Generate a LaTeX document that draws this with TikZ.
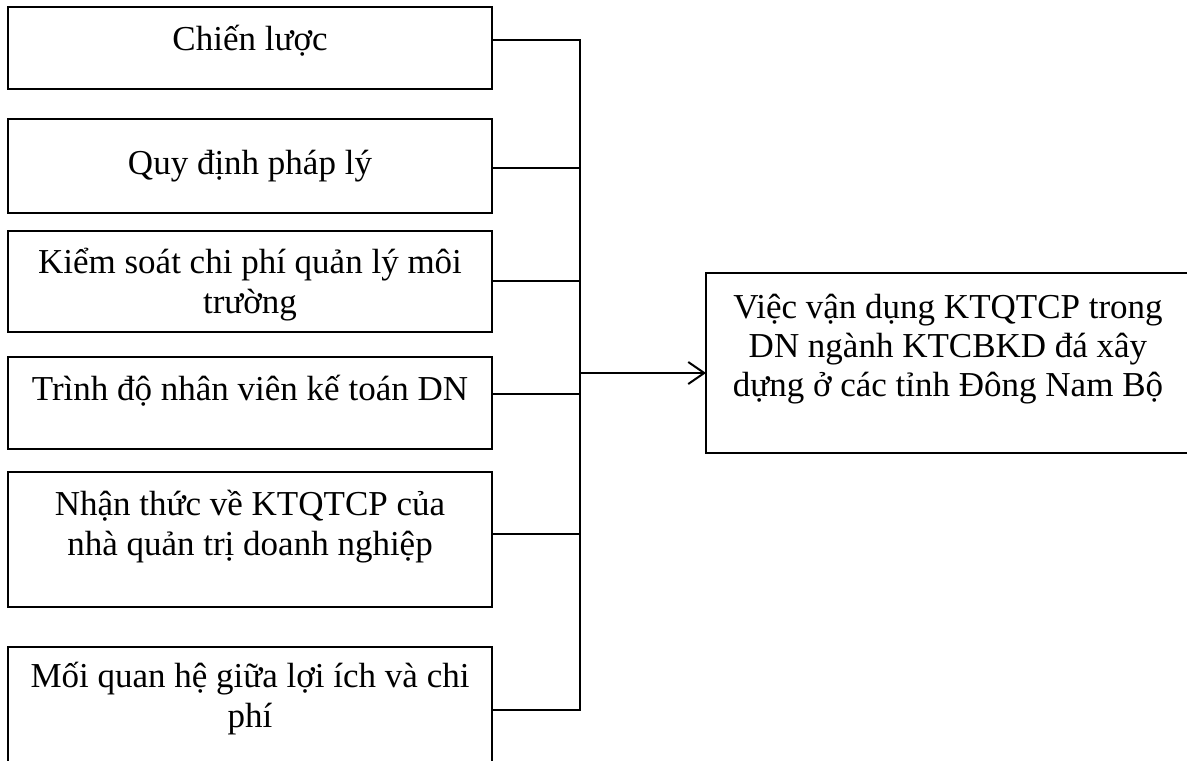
\documentclass[tikz,border=0pt]{standalone}
\usepackage{fontspec}
\setmainfont{Liberation Serif}
\usetikzlibrary{
  arrows.meta,
  positioning
}

\begin{document}
\begin{tikzpicture}[
  x=0.5pt, y=-0.5pt,
  font=\fontsize{17.5}{20}\selectfont,
  frame/.style={draw, line width=0.75pt, minimum width=242pt, inner sep=0pt, outer sep=0pt, anchor=north west},
  txt/.style={align=center, inner sep=0pt, anchor=base},
  link/.style={line width=0.8pt},
  arrow/.style={line width=1pt, -{Straight Barb[length=8pt, width=11pt]}}
]
\useasboundingbox (0,0) rectangle (1187,760);
\clip (0,0) rectangle (1187,760);
\node[frame, minimum height=41pt] (strat) at (8,7) {};
\node[frame, minimum height=47pt] (legal) at (8,119) {};
\node[frame, minimum height=50.5pt] (envcost) at (8,231) {};
\node[frame, minimum height=46pt] (staff) at (8,357) {};
\node[frame, minimum height=67.5pt] (aware) at (8,472) {};
\node[frame, minimum height=65pt] (benefit) at (8,647) {};
\node[frame, minimum height=90pt] (apply) at (706,273) {};
\node[txt] (stratT) at ([yshift=-21.5pt]strat.north) {Chiến lược};
\node[txt] (legalT) at ([yshift=-27.5pt]legal.north) {Quy định pháp lý};
\node[txt] (envcostT) at ([yshift=-41pt]envcost.north) {Kiểm soát chi phí quản lý môi\\trường};
\node[txt] (staffT) at ([yshift=-21.5pt]staff.north) {Trình độ nhân viên kế toán DN};
\node[txt] (awareT) at ([yshift=-41.5pt]aware.north) {Nhận thức về KTQTCP của\\nhà quản trị doanh nghiệp};
\node[txt] (benefitT) at ([yshift=-40pt]benefit.north) {Mối quan hệ giữa lợi ích và chi\\phí};
\node[txt, font=\fontsize{17.5}{19.5}\selectfont] (applyT) at ([yshift=-61.5pt]apply.north) {Việc vận dụng KTQTCP trong\\DN ngành KTCBKD đá xây\\dựng ở các tỉnh Đông Nam Bộ};
\coordinate (j1) at (580,40);
\coordinate (j2) at (580,168);
\coordinate (j3) at (580,281);
\coordinate (j4) at (580,394);
\coordinate (j5) at (580,534);
\coordinate (j6) at (580,710);
\coordinate (jout) at (580,373);
\draw[link] (strat.east |- j1) -- (j1) -- (j6) -- (benefit.east |- j6);
\draw[link] (legal.east |- j2) -- (j2);
\draw[link] (envcost.east |- j3) -- (j3);
\draw[link] (staff.east |- j4) -- (j4);
\draw[link] (aware.east |- j5) -- (j5);
\draw[arrow] (jout) -- (apply.west |- jout);
\end{tikzpicture}
\end{document}
